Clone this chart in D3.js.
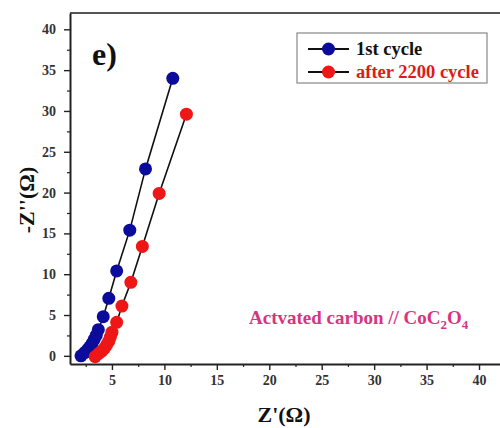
<!DOCTYPE html>
<html>
<head>
<meta charset="utf-8">
<script src="https://cdn.jsdelivr.net/npm/d3@7"></script>
<style>
  html, body { margin: 0; padding: 0; background: #fff; }
  svg { display: block; }
</style>
</head>
<body>
<svg id="chart" width="500" height="428" font-family="Liberation Serif" font-weight="bold"></svg>
<script>
// Nyquist data: Z' (real) vs -Z'' (imaginary), in ohms
const firstCycleRe  = [2.05, 2.4, 2.7, 2.9, 3.1, 3.3, 3.5, 3.7, 4.17, 4.7, 5.45, 6.7, 8.2, 10.8];
const firstCycleIm  = [0.0, 0.4, 0.8, 1.1, 1.5, 2.0, 2.5, 3.2, 4.8, 7.05, 10.4, 15.4, 22.9, 34.0];
const after2200Re   = [3.4, 3.75, 4.05, 4.3, 4.5, 4.7, 4.85, 5.0, 5.45, 5.95, 6.8, 7.9, 9.5, 12.1];
const after2200Im   = [-0.1, 0.3, 0.6, 0.95, 1.35, 1.8, 2.3, 2.9, 4.1, 6.1, 9.0, 13.4, 19.9, 29.6];
const seriesNames   = ["1st cycle", "after 2200 cycle"];
const seriesColors  = ["#0c0c9c", "#ee1616"];
const xTickValues   = [5, 10, 15, 20, 25, 30, 35, 40];
const yTickValues   = [0, 5, 10, 15, 20, 25, 30, 35, 40];

const series = [
  { name: seriesNames[0], color: seriesColors[0], pts: firstCycleRe.map((v, i) => [v, firstCycleIm[i]]) },
  { name: seriesNames[1], color: seriesColors[1], pts: after2200Re.map((v, i) => [v, after2200Im[i]]) }
];

const svg = d3.select("#chart");
const plotL = 70, plotR = 500, plotT = 13, plotB = 364;

const x = d3.scaleLinear().domain([1, 42]).range([plotL, plotR]);
const y = d3.scaleLinear().domain([-1, 42]).range([plotB, plotT]);

// top frame line
svg.append("line")
  .attr("x1", plotL).attr("x2", plotR).attr("y1", plotT).attr("y2", plotT)
  .attr("stroke", "#555").attr("stroke-width", 2);

// minor ticks
const xMinor = d3.range(2.5, 42, 5);
const yMinor = d3.range(2.5, 42, 5);
svg.append("g").attr("transform", `translate(0,${plotB})`)
  .call(d3.axisBottom(x).tickValues(xMinor).tickSize(3).tickFormat(""))
  .call(g => g.select(".domain").remove())
  .selectAll("line").attr("stroke", "#222").attr("stroke-width", 1.2);
svg.append("g").attr("transform", `translate(${plotL},0)`)
  .call(d3.axisLeft(y).tickValues(yMinor).tickSize(3).tickFormat(""))
  .call(g => g.select(".domain").remove())
  .selectAll("line").attr("stroke", "#222").attr("stroke-width", 1.2);

// major axes
const xAxis = svg.append("g").attr("transform", `translate(0,${plotB})`)
  .call(d3.axisBottom(x).tickValues(xTickValues).tickSize(6).tickSizeOuter(0).tickPadding(5));
const yAxis = svg.append("g").attr("transform", `translate(${plotL},0)`)
  .call(d3.axisLeft(y).tickValues(yTickValues).tickSize(6).tickSizeOuter(0).tickPadding(8));
[xAxis, yAxis].forEach(g => {
  g.attr("font-family", "Liberation Serif").attr("font-size", 14);
  g.select(".domain").attr("stroke", "#222").attr("stroke-width", 2);
  g.selectAll(".tick line").attr("stroke", "#222").attr("stroke-width", 1.4);
  g.selectAll(".tick text").attr("fill", "#333");
});

// series lines and markers
const line = d3.line().x(d => x(d[0])).y(d => y(d[1]));
series.forEach(s => {
  svg.append("path").datum(s.pts)
    .attr("d", line).attr("fill", "none")
    .attr("stroke", "#111").attr("stroke-width", 1.6);
});
series.forEach(s => {
  svg.append("g").selectAll("circle").data(s.pts).join("circle")
    .attr("cx", d => x(d[0])).attr("cy", d => y(d[1]))
    .attr("r", 6.5).attr("fill", s.color);
});

// panel label
svg.append("text").attr("x", 92).attr("y", 65)
  .attr("font-size", 32).attr("fill", "#111").text("e)");

// legend
const lg = svg.append("g");
lg.append("rect").attr("x", 297).attr("y", 33).attr("width", 190).attr("height", 50)
  .attr("fill", "none").attr("stroke", "#888").attr("stroke-width", 1.2);
series.forEach((s, i) => {
  const cy = 49 + i * 23;
  lg.append("line").attr("x1", 308).attr("x2", 349).attr("y1", cy).attr("y2", cy)
    .attr("stroke", "#111").attr("stroke-width", 2.2);
  lg.append("circle").attr("cx", 328.5).attr("cy", cy).attr("r", 6.5).attr("fill", s.color);
  lg.append("text").attr("x", 356).attr("y", cy + 6)
    .attr("font-size", 18.5)
    .attr("fill", i === 0 ? "#111" : "#e01a1a")
    .text(s.name);
});

// device annotation
const ann = svg.append("text").attr("x", 249).attr("y", 324)
  .attr("font-size", 19).attr("fill", "#d8347f");
ann.append("tspan").text("Actvated carbon // CoC");
ann.append("tspan").attr("dy", 5).attr("font-size", 13).text("2");
ann.append("tspan").attr("dy", -5).text("O");
ann.append("tspan").attr("dy", 5).attr("font-size", 13).text("4");

// axis titles
svg.append("text").attr("x", 284).attr("y", 422).attr("text-anchor", "middle")
  .attr("font-size", 22).attr("fill", "#111").text("Z'(Ω)");
svg.append("text").attr("transform", "translate(34,200) rotate(-90)")
  .attr("text-anchor", "middle")
  .attr("font-size", 22).attr("fill", "#111").text("-Z''(Ω)");
</script>
</body>
</html>
